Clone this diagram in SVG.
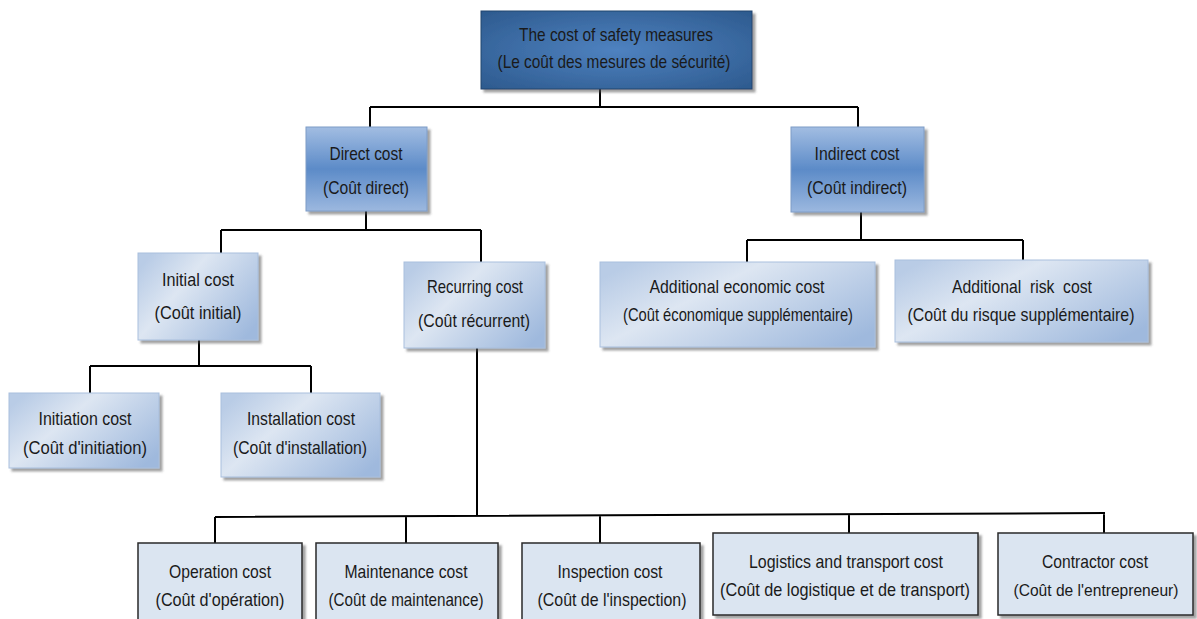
<svg xmlns="http://www.w3.org/2000/svg" width="1197" height="619" viewBox="0 0 1197 619">
  <defs>
    <radialGradient id="gTop" cx="0.5" cy="0.5" r="0.7">
      <stop offset="0" stop-color="#4f82c0"/>
      <stop offset="1" stop-color="#2d5a8e"/>
    </radialGradient>
    <linearGradient id="gMid" x1="0" y1="0" x2="0" y2="1">
      <stop offset="0" stop-color="#a2bde2"/>
      <stop offset="0.5" stop-color="#5c8bc8"/>
      <stop offset="1" stop-color="#9cb8df"/>
    </linearGradient>
    <linearGradient id="gLight" x1="0" y1="0.2" x2="1" y2="0.8">
      <stop offset="0" stop-color="#b9cce6"/>
      <stop offset="0.35" stop-color="#dde6f2"/>
      <stop offset="1" stop-color="#9fb9dd"/>
    </linearGradient>
    <filter id="shadow" x="-10%" y="-10%" width="125%" height="130%">
      <feDropShadow dx="3" dy="3" stdDeviation="1.2" flood-color="#555" flood-opacity="0.55"/>
    </filter>
  </defs>
  <style>
    .t { font-family: "Liberation Sans", Arial, sans-serif; font-size: 18.5px; text-anchor: middle; fill: #1a1a1a; }
    .sm { font-size: 16.5px; }
    .top { fill: url(#gTop); stroke: #23466f; stroke-width: 1; filter: url(#shadow); }
    .mid { fill: url(#gMid); stroke: #7f9cc6; stroke-width: 1; filter: url(#shadow); }
    .light { fill: url(#gLight); stroke: #a9bfdd; stroke-width: 1; filter: url(#shadow); }
    .leaf { fill: #dbe5f1; stroke: #2a2a2a; stroke-width: 1.5; filter: url(#shadow); }
    .wire { fill: none; stroke: #000; stroke-width: 2; }
  </style>

  <!-- connectors -->
  <g id="connectors" class="wire">
    <path d="M600 89 V107 M370 107 H858 M370 107 V127 M858 107 V127"/>
    <path d="M366 211 V230 M221 230 H481 M221 230 V253 M481 230 V262"/>
    <path d="M861 212 V240 M747 240 H1023 M747 240 V262 M1023 240 V260"/>
    <path d="M199 340 V366 M90 366 H311 M90 366 V393 M311 366 V393"/>
    <path d="M477 348 V516 M215 517 L1105 513 M215 517 V543 M406 516 V543 M600 515 V543 M849 514 V533 M1104 513 V533"/>
  </g>

  <!-- root -->
  <g id="node-root">
    <rect class="top" x="481" y="11" width="271" height="78"/>
    <text class="t" x="616" y="41" textLength="194" lengthAdjust="spacingAndGlyphs">The cost of safety measures</text>
    <text class="t" x="614" y="68" textLength="233" lengthAdjust="spacingAndGlyphs">(Le coût des mesures de sécurité)</text>
  </g>

  <!-- level 1 -->
  <g id="node-direct">
    <rect class="mid" x="306" y="127" width="121" height="84"/>
    <text class="t" x="366" y="160" textLength="73" lengthAdjust="spacingAndGlyphs">Direct cost</text>
    <text class="t" x="366" y="194" textLength="86" lengthAdjust="spacingAndGlyphs">(Coût direct)</text>
  </g>
  <g id="node-indirect">
    <rect class="mid" x="791" y="127" width="133" height="85"/>
    <text class="t" x="857" y="160" textLength="85" lengthAdjust="spacingAndGlyphs">Indirect cost</text>
    <text class="t" x="857" y="194" textLength="100" lengthAdjust="spacingAndGlyphs">(Coût indirect)</text>
  </g>

  <!-- level 2 -->
  <g id="node-initial">
    <rect class="light" x="138" y="253" width="120" height="87"/>
    <text class="t" x="198" y="286" textLength="72" lengthAdjust="spacingAndGlyphs">Initial cost</text>
    <text class="t" x="198" y="319" textLength="87" lengthAdjust="spacingAndGlyphs">(Coût initial)</text>
  </g>
  <g id="node-recurring">
    <rect class="light" x="404" y="262" width="141" height="86"/>
    <text class="t" x="475" y="293" textLength="96" lengthAdjust="spacingAndGlyphs">Recurring cost</text>
    <text class="t" x="474" y="327" textLength="112" lengthAdjust="spacingAndGlyphs">(Coût récurrent)</text>
  </g>
  <g id="node-economic">
    <rect class="light" x="600" y="262" width="275" height="85"/>
    <text class="t" x="737" y="293" textLength="175" lengthAdjust="spacingAndGlyphs">Additional economic cost</text>
    <text class="t" x="738" y="321" textLength="230" lengthAdjust="spacingAndGlyphs">(Coût économique supplémentaire)</text>
  </g>
  <g id="node-risk">
    <rect class="light" x="895" y="260" width="253" height="82"/>
    <text class="t" x="1022" y="293" textLength="140" lengthAdjust="spacingAndGlyphs" xml:space="preserve">Additional  risk  cost</text>
    <text class="t" x="1021" y="321" textLength="227" lengthAdjust="spacingAndGlyphs">(Coût du risque supplémentaire)</text>
  </g>

  <!-- level 3: initial cost children -->
  <g id="node-initiation">
    <rect class="light" x="9" y="393" width="150" height="75"/>
    <text class="t" x="85" y="425" textLength="93" lengthAdjust="spacingAndGlyphs">Initiation cost</text>
    <text class="t" x="85" y="454" textLength="124" lengthAdjust="spacingAndGlyphs">(Coût d'initiation)</text>
  </g>
  <g id="node-installation">
    <rect class="light" x="221" y="393" width="159" height="84"/>
    <text class="t" x="301" y="425" textLength="108" lengthAdjust="spacingAndGlyphs">Installation cost</text>
    <text class="t" x="300" y="454" textLength="134" lengthAdjust="spacingAndGlyphs">(Coût d'installation)</text>
  </g>

  <!-- level 3: recurring cost children -->
  <g id="node-operation">
    <rect class="leaf" x="138" y="543" width="164" height="84"/>
    <text class="t" x="220" y="578" textLength="102" lengthAdjust="spacingAndGlyphs">Operation cost</text>
    <text class="t" x="220" y="606" textLength="129" lengthAdjust="spacingAndGlyphs">(Coût d'opération)</text>
  </g>
  <g id="node-maintenance">
    <rect class="leaf" x="316" y="543" width="182" height="84"/>
    <text class="t" x="406" y="578" textLength="123" lengthAdjust="spacingAndGlyphs">Maintenance cost</text>
    <text class="t" x="406" y="606" textLength="155" lengthAdjust="spacingAndGlyphs">(Coût de maintenance)</text>
  </g>
  <g id="node-inspection">
    <rect class="leaf" x="522" y="543" width="178" height="84"/>
    <text class="t" x="610" y="578" textLength="105" lengthAdjust="spacingAndGlyphs">Inspection cost</text>
    <text class="t" x="612" y="606" textLength="149" lengthAdjust="spacingAndGlyphs">(Coût de l'inspection)</text>
  </g>
  <g id="node-logistics">
    <rect class="leaf" x="713" y="533" width="265" height="82"/>
    <text class="t" x="846" y="568" textLength="194" lengthAdjust="spacingAndGlyphs">Logistics and transport cost</text>
    <text class="t" x="845" y="596" textLength="250" lengthAdjust="spacingAndGlyphs">(Coût de logistique et de transport)</text>
  </g>
  <g id="node-contractor">
    <rect class="leaf" x="998" y="533" width="195" height="82"/>
    <text class="t" x="1095" y="568" textLength="106" lengthAdjust="spacingAndGlyphs">Contractor cost</text>
    <text class="t sm" x="1096" y="596" textLength="165" lengthAdjust="spacingAndGlyphs">(Coût de l'entrepreneur)</text>
  </g>
</svg>
